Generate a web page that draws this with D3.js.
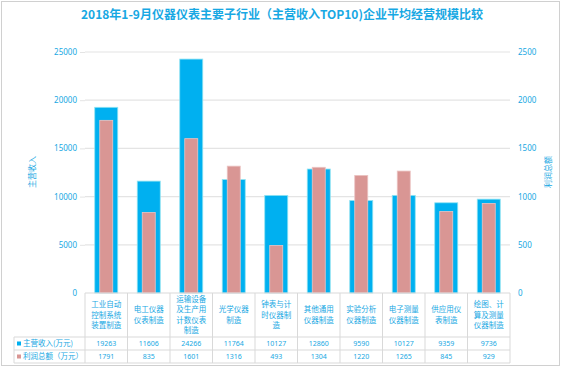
<!DOCTYPE html>
<html><head><meta charset="utf-8">
<script src="https://cdn.jsdelivr.net/npm/d3@7"></script>
<style>body{margin:0;background:#fff;}svg{display:block;font-family:"Noto Sans CJK SC","Noto Sans",sans-serif;}</style>
</head><body>
<svg id="c" width="563" height="368"></svg>
<script>
const categories = [
  ["工业自动","控制系统","装置制造"],
  ["电工仪器","仪表制造"],
  ["运输设备","及生产用","计数仪表","制造"],
  ["光学仪器","制造"],
  ["钟表与计","时仪器制","造"],
  ["其他通用","仪器制造"],
  ["实验分析","仪器制造"],
  ["电子测量","仪器制造"],
  ["供应用仪","表制造"],
  ["绘图、计","算及测量","仪器制造"]
];
const revenue = [19263, 11606, 24266, 11764, 10127, 12860, 9590, 10127, 9359, 9736];
const profit = [1791, 835, 1601, 1316, 493, 1304, 1220, 1265, 845, 929];
const leftTicks = [0, 5000, 10000, 15000, 20000, 25000];
const rightTicks = [0, 500, 1000, 1500, 2000, 2500];
const seriesNames = ["主营收入(万元)", "利润总额（万元）"];
const title = "2018年1-9月仪器仪表主要子行业（主营收入TOP10)企业平均经营规模比较";

const txt = "#17a8e3", blue = "#00B0F0", pink = "#D99694", grid = "#e4e4e4", border = "#d9d9d9";
const svg = d3.select("#c");
svg.append("rect").attr("x",1.5).attr("y",1.5).attr("width",558).attr("height",364).attr("fill","#fff").attr("stroke","#d0d0d0");

const L = 85, R = 510, T = 52, B = 293;
const x = d3.scaleBand().domain(d3.range(categories.length)).range([L, R]).padding(0);
const yL = d3.scaleLinear().domain([0, 25000]).range([B, T]);
const yR = d3.scaleLinear().domain([0, 2500]).range([B, T]);

svg.append("text").attr("x", 282).attr("y", 19).attr("text-anchor","middle")
  .attr("fill", txt).attr("font-size", 12).attr("font-weight","bold").text(title);

// gridlines
svg.append("g").selectAll("line").data(leftTicks.slice(1)).join("line")
  .attr("x1", L).attr("x2", R).attr("y1", d=>yL(d)).attr("y2", d=>yL(d))
  .attr("stroke", grid).attr("stroke-width", 1.2);

// left axis
const ga = svg.append("g").attr("transform", `translate(${L},0)`)
  .call(d3.axisLeft(yL).tickValues(leftTicks).tickSize(5).tickPadding(3).tickFormat(d3.format("d")));
ga.select(".domain").remove();
ga.selectAll(".tick line").attr("stroke", grid);
ga.selectAll("text").attr("fill", txt).attr("font-size", 8).attr("font-family","'Noto Sans',sans-serif");
ga.select(".tick:first-of-type line").remove();

const gb = svg.append("g").attr("transform", `translate(${R},0)`)
  .call(d3.axisRight(yR).tickValues(rightTicks).tickSize(0).tickPadding(8).tickFormat(d3.format("d")));
gb.select(".domain").remove();
gb.selectAll("text").attr("fill", txt).attr("font-size", 8).attr("font-family","'Noto Sans',sans-serif");

svg.append("text").attr("transform","translate(35,172) rotate(-90)").attr("text-anchor","middle")
  .attr("fill", txt).attr("font-size", 8).text("主营收入");
svg.append("text").attr("transform","translate(551,172) rotate(-90)").attr("text-anchor","middle")
  .attr("fill", txt).attr("font-size", 8).text("利润总额");

// bars
const bw = x.bandwidth();
svg.append("g").selectAll("rect").data(revenue).join("rect")
  .attr("x", (d,i)=>x(i)+bw/2-11.5).attr("width", 23)
  .attr("y", d=>yL(d)).attr("height", d=>B-yL(d))
  .attr("fill", blue).attr("stroke","#8fe3f2").attr("stroke-width",0.8);
svg.append("g").selectAll("rect").data(profit).join("rect")
  .attr("x", (d,i)=>x(i)+bw/2-6.5).attr("width", 13)
  .attr("y", d=>yR(d)).attr("height", d=>B-yR(d))
  .attr("fill", pink).attr("stroke","#ebc3c2").attr("stroke-width",0.8);

// data table
const r1 = 337, r2 = 350, r3 = 363, TL = 14;
const tb = svg.append("g").attr("stroke", border).attr("stroke-width", 1);
tb.append("line").attr("x1",L).attr("x2",R).attr("y1",B).attr("y2",B);
[r1, r2, r3].forEach(yy => tb.append("line").attr("x1",TL).attr("x2",R).attr("y1",yy).attr("y2",yy));
tb.append("line").attr("x1",TL).attr("x2",TL).attr("y1",r1).attr("y2",r3);
d3.range(categories.length + 1).forEach(i => {
  const xx = i < categories.length ? x(i) : R;
  tb.append("line").attr("x1",xx).attr("x2",xx).attr("y1",B).attr("y2",r3);
});

const lh = 10.5, mid = (B + r1) / 2;
categories.forEach((lines, i) => {
  const t = svg.append("text").attr("text-anchor","middle").attr("fill", txt).attr("font-size", 7.5);
  lines.forEach((s, j) => {
    t.append("tspan").attr("x", x(i)+bw/2).attr("y", mid + (j - (lines.length-1)/2)*lh + 2.7).text(s);
  });
});
[revenue, profit].forEach((arr, k) => {
  const yy = (k === 0 ? (r1+r2)/2 : (r2+r3)/2) + 2.5;
  svg.append("g").selectAll("text").data(arr).join("text")
    .attr("x", (d,i)=>x(i)+bw/2).attr("y", yy).attr("text-anchor","middle")
    .attr("fill", txt).attr("font-size", 7).attr("font-family","'Noto Sans',sans-serif").text(d=>d);
  const cy = k === 0 ? (r1+r2)/2 : (r2+r3)/2;
  svg.append("rect").attr("x", 17).attr("y", cy-2).attr("width",4).attr("height",4).attr("fill", k===0?blue:pink);
  svg.append("text").attr("x", 23).attr("y", cy+2.7).attr("fill", txt).attr("font-size", 7.5).text(seriesNames[k]);
});
</script>
</body></html>
